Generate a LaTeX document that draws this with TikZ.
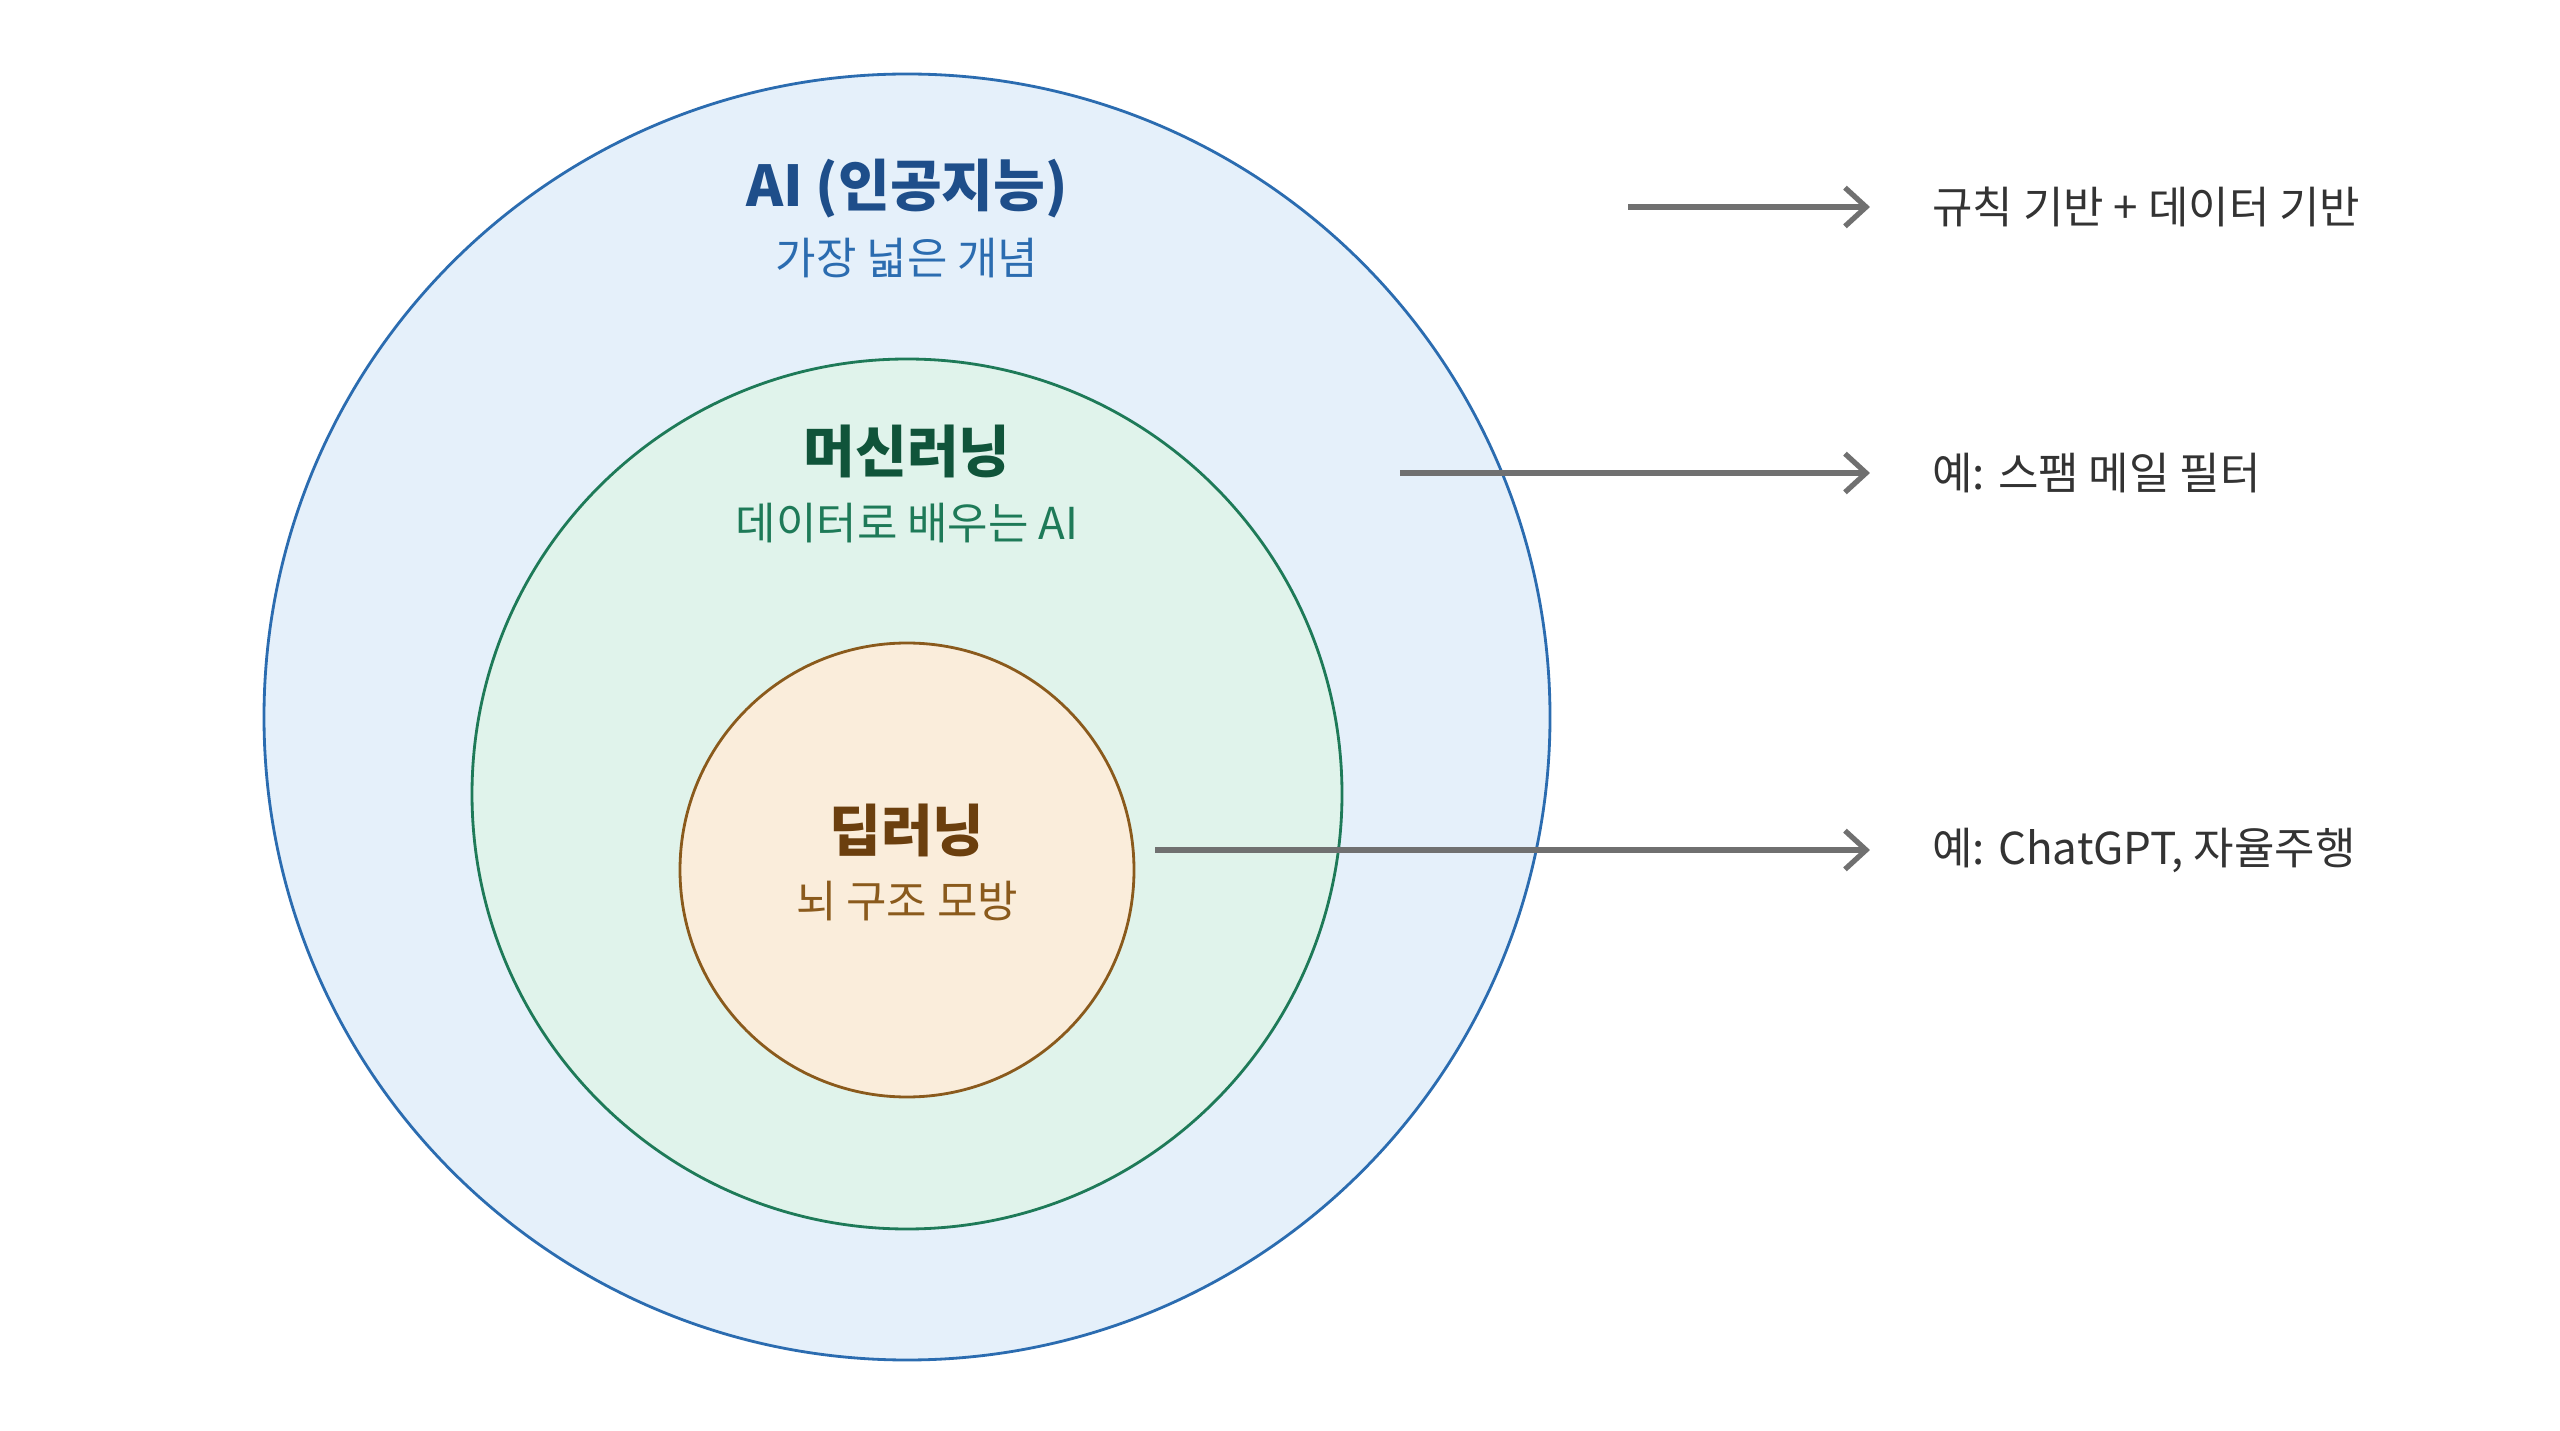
\documentclass[tikz,border=0pt]{standalone}
\usepackage{fontspec}
\setmainfont{Noto Sans CJK KR}
\usetikzlibrary{arrows.meta}
\definecolor{aifill}{HTML}{E5F0FA}\definecolor{aidraw}{HTML}{2B6CB0}\definecolor{aitext}{HTML}{1E4E8A}\definecolor{aisub}{HTML}{2B6CB0}
\definecolor{mlfill}{HTML}{E0F3EB}\definecolor{mldraw}{HTML}{1E7A58}\definecolor{mltext}{HTML}{10543A}\definecolor{mlsub}{HTML}{1E7A58}
\definecolor{dlfill}{HTML}{FAEDDB}\definecolor{dldraw}{HTML}{8A5A1C}\definecolor{dltext}{HTML}{6B3F0E}\definecolor{dlsub}{HTML}{8A5A1C}
\definecolor{arr}{HTML}{707070}\definecolor{lab}{HTML}{333333}
\tikzset{title/.style={font=\fontsize{16}{19}\selectfont\bfseries},
sub/.style={font=\fontsize{12.5}{15}\selectfont},
lbl/.style={font=\fontsize{12.5}{15}\selectfont,text=lab,anchor=west},
conn/.style={draw=arr,line width=1.5pt,-{Straight Barb[length=6pt,width=11pt,line width=1.5pt]}}}
\begin{document}
\begin{tikzpicture}[x=0.01cm,y=-0.01cm]
\useasboundingbox (0,0) rectangle (2560,1431);
\fill[white] (0,0) rectangle (2560,1431);
\draw[aidraw,fill=aifill,line width=0.8pt] (907,717) circle[radius=643];
\draw[mldraw,fill=mlfill,line width=0.8pt] (907,794) circle[radius=435];
\draw[dldraw,fill=dlfill,line width=0.8pt] (907,870) circle[radius=227];
\node[title,text=aitext] (ait) at (907,189) {AI (인공지능)};
\node[sub,text=aisub] (ais) at (907,258) {가장 넓은 개념};
\node[title,text=mltext] (mlt) at (907,451) {머신러닝};
\node[sub,text=mlsub] (mls) at (907,523) {데이터로 배우는 AI};
\node[title,text=dltext] (dlt) at (907,830) {딥러닝};
\node[sub,text=dlsub] (dls) at (907,901) {뇌 구조 모방};
\coordinate (a1) at (1628,207); \coordinate (a2) at (1400,473); \coordinate (a3) at (1155,850);
\node[lbl] (l1) at (1920,207) {규칙 기반 + 데이터 기반};
\node[lbl] (l2) at (1920,473) {예: 스팸 메일 필터};
\node[lbl] (l3) at (1920,850) {예: ChatGPT, 자율주행};
\draw[conn] (a1) -- ([xshift=-0.5cm]l1.west);
\draw[conn] (a2) -- ([xshift=-0.5cm]l2.west);
\draw[conn] (a3) -- ([xshift=-0.5cm]l3.west);
\end{tikzpicture}
\end{document}
